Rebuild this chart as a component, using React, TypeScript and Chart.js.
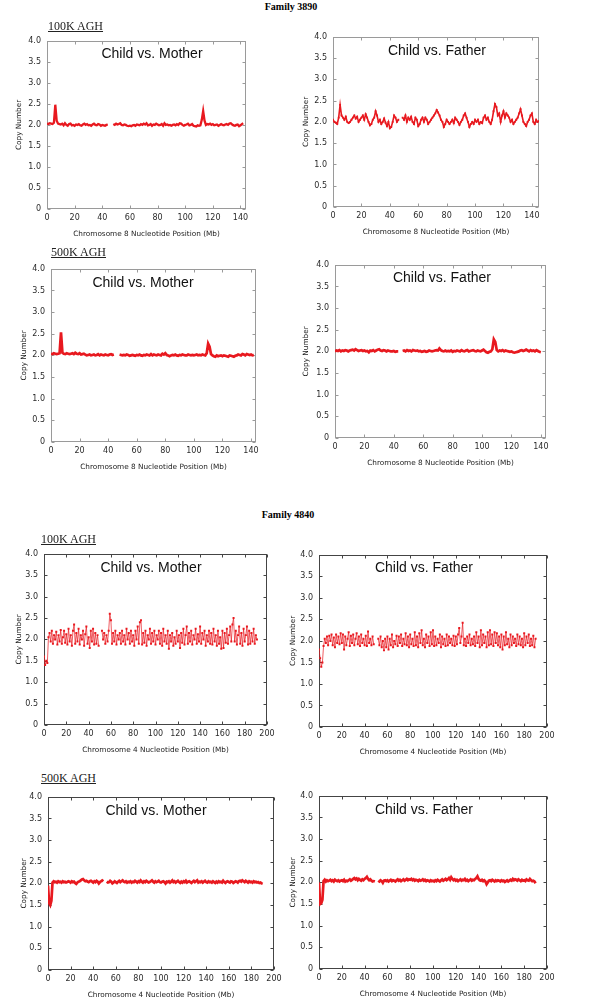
import React, { useEffect, useRef } from "react";
import { Chart, registerables } from "chart.js";

Chart.register(...registerables);

// ---------- DATA ----------
// Nucleotide positions (Mb)
const CHR8_MB = [
  0, 1, 2, 3, 4, 5, 6, 7, 8, 9, 10, 11, 12, 13, 14, 15, 16, 17, 18, 19,
  20, 21, 22, 23, 24, 25, 26, 27, 28, 29, 30, 31, 32, 33, 34, 35, 36, 37, 38, 39,
  40, 41, 42, 43, 44, 45, 46, 47, 48, 49, 50, 51, 52, 53, 54, 55, 56, 57, 58, 59,
  60, 61, 62, 63, 64, 65, 66, 67, 68, 69, 70, 71, 72, 73, 74, 75, 76, 77, 78, 79,
  80, 81, 82, 83, 84, 85, 86, 87, 88, 89, 90, 91, 92, 93, 94, 95, 96, 97, 98, 99,
  100, 101, 102, 103, 104, 105, 106, 107, 108, 109, 110, 111, 112, 113, 114, 115, 116, 117, 118, 119,
  120, 121, 122, 123, 124, 125, 126, 127, 128, 129, 130, 131, 132, 133, 134, 135, 136, 137, 138, 139,
  140, 141, 142, 143, 144, 145,
];
const CHR4_MB = [
  0, 1, 2, 3, 4, 5, 6, 7, 8, 9, 10, 11, 12, 13, 14, 15, 16, 17, 18, 19,
  20, 21, 22, 23, 24, 25, 26, 27, 28, 29, 30, 31, 32, 33, 34, 35, 36, 37, 38, 39,
  40, 41, 42, 43, 44, 45, 46, 47, 48, 49, 50, 51, 52, 53, 54, 55, 56, 57, 58, 59,
  60, 61, 62, 63, 64, 65, 66, 67, 68, 69, 70, 71, 72, 73, 74, 75, 76, 77, 78, 79,
  80, 81, 82, 83, 84, 85, 86, 87, 88, 89, 90, 91, 92, 93, 94, 95, 96, 97, 98, 99,
  100, 101, 102, 103, 104, 105, 106, 107, 108, 109, 110, 111, 112, 113, 114, 115, 116, 117, 118, 119,
  120, 121, 122, 123, 124, 125, 126, 127, 128, 129, 130, 131, 132, 133, 134, 135, 136, 137, 138, 139,
  140, 141, 142, 143, 144, 145, 146, 147, 148, 149, 150, 151, 152, 153, 154, 155, 156, 157, 158, 159,
  160, 161, 162, 163, 164, 165, 166, 167, 168, 169, 170, 171, 172, 173, 174, 175, 176, 177, 178, 179,
  180, 181, 182, 183, 184, 185, 186, 187, 188, 189, 190, 191,
];

// Family 3890, 100K AGH, Child vs. Mother (chr 8)
const F3890_100K_MOTHER = [
  2.03, 2.02, 2.04, 2.03, 2.02, 2.05, 2.48, 2.1, 2.03, 2.02,
  2.01, 2.03, 1.99, 2.04, 2.0, 1.98, 2.02, 2.03, 1.99, 2.0,
  1.98, 2.01, 2.0, 2.02, 1.99, 1.98, 2.01, 2.03, 2.0, 2.02,
  1.99, 2.0, 1.98, 2.01, 2.03, 2.0, 1.99, 2.02, 2.01, 1.98,
  2.0, 1.99, 1.98, 2.0, 2.01, null, null, null, 2.02, 2.0,
  2.03, 2.01, 2.02, 2.04, 2.0, 1.99, 2.01, 2.0, 1.98, 1.97,
  1.98, 1.97, 1.99, 2.0, 1.98, 2.01, 2.0, 1.99, 2.02, 2.0,
  2.03, 2.01, 2.04, 1.99, 2.0, 2.02, 1.98, 2.01, 2.0, 2.03,
  2.01, 1.99, 2.0, 2.02, 1.98, 2.04, 2.0, 2.01, 1.99, 2.0,
  1.98, 2.0, 2.01, 1.99, 2.02, 2.0, 2.04, 2.03, 2.0, 1.98,
  2.0, 2.01, 2.03, 1.99, 2.0, 2.02, 1.98, 1.97, 1.96, 1.99,
  1.98, 1.99, 2.12, 2.33, 2.1, 2.0, 2.02, 2.01, 2.03, 2.0,
  2.02, 1.99, 2.0, 2.01, 1.98, 2.0, 2.02, 2.0, 1.99, 2.01,
  2.02, 2.0, 2.03, 2.04, 2.01, 1.99, 1.98, 2.0, 2.01, 1.97,
  1.99, 2.02, 2.04,
];

// Family 3890, 100K AGH, Child vs. Father (chr 8)
const F3890_100K_FATHER = [
  2.05, 2.0, 1.98, 1.95, 2.1, 2.4, 2.15, 2.1, 2.05, 2.12,
  2.0, 1.97, 2.0, 2.05, 2.1, 2.15, 2.08, 2.12, 2.0, 2.05,
  2.1, 2.15, 2.05, 2.18, 2.1, 2.0, 1.92, 1.95, 2.05, 2.1,
  2.25, 2.15, 2.0, 2.05, 1.95, 2.0, 2.08, 1.98, 1.9, 2.0,
  1.85, 1.88, 2.0, 2.15, 2.1, 2.0, 2.05, null, null, 2.1,
  2.05, 2.15, 2.0, 2.1, 2.05, 2.12, 2.0, 1.95, 2.1, 2.05,
  1.9, 1.95, 2.05, 2.1, 2.0, 2.1, 2.05, 1.95, 2.0, 2.05,
  2.1, 2.15, 2.2, 2.28, 2.22, 2.15, 2.05, 2.0, 1.88, 1.95,
  2.05, 2.0, 1.95, 2.0, 2.05, 1.97, 2.1, 2.05, 2.0, 1.93,
  2.0, 2.05, 2.15, 2.2, 2.1, 2.0, 1.88, 1.95, 2.0, 1.95,
  2.05, 2.0, 2.05, 1.95, 2.0, 1.97, 2.1, 2.15, 2.05, 2.1,
  2.0, 1.95, 2.05, 2.25, 2.42, 2.35, 2.15, 2.2, 2.0, 2.15,
  2.25, 2.1, 2.2, 2.15, 2.1, 2.0, 2.05, 1.95, 2.0, 2.05,
  2.1, 2.2, 2.3, 2.15, 2.0, 1.95, 1.9, 2.0, 2.05, 2.15,
  2.2, 2.0, 1.95, 2.05, 2.0, 2.02,
];

// Family 3890, 500K AGH, Child vs. Mother (chr 8)
const F3890_500K_MOTHER = [
  2.04, 2.03, 2.05, 2.04, 2.03, 2.04, 2.05, 2.53, 2.06, 2.04,
  2.03, 2.05, 2.04, 2.03, 2.04, 2.05, 2.03, 2.06, 2.04, 2.03,
  2.05, 2.02, 2.03, 2.04, 2.02, 2.0, 2.01, 2.02, 2.0, 2.01,
  2.02, 2.0, 2.01, 2.03, 2.0, 2.02, 2.01, 2.0, 2.02, 2.01,
  2.0, 2.02, 2.03, 2.01, 2.02, null, null, null, 2.02, 2.01,
  2.0, 2.01, 2.0, 2.02, 2.01, 1.99, 2.0, 2.01, 2.0, 1.99,
  2.01, 2.0, 2.02, 2.0, 1.99, 2.01, 2.0, 2.02, 2.01, 2.0,
  2.03, 2.0, 2.02, 2.01, 2.0, 2.02, 2.01, 2.0, 2.04, 2.02,
  2.05, 2.01, 2.0, 1.98, 2.0, 2.01, 2.0, 2.02, 2.0, 1.99,
  2.01, 2.0, 2.02, 2.01, 2.0, 2.0, 2.02, 2.01, 2.0, 2.01,
  2.0, 2.01, 2.02, 2.0, 2.01, 2.0, 2.02, 2.01, 2.0, 2.05,
  2.27, 2.2, 2.03, 2.0, 1.98, 1.97, 2.0, 1.98, 1.99, 2.0,
  1.98, 2.0, 1.99, 1.98, 1.97, 2.0, 1.99, 1.98, 1.97, 1.99,
  2.0, 2.02, 2.01, 2.0, 2.03, 2.02, 2.0, 2.03, 2.02, 2.01,
  2.02, 2.0, 2.01,
];

// Family 3890, 500K AGH, Child vs. Father (chr 8)
const F3890_500K_FATHER = [
  2.0, 2.02, 2.01, 2.03, 2.0, 2.02, 2.01, 2.03, 2.02, 2.0,
  2.02, 2.03, 2.04, 2.02, 2.05, 2.03, 2.01, 2.02, 2.03, 2.01,
  2.02, 2.0, 2.01, 1.98, 2.02, 2.01, 2.03, 2.0, 2.02, 2.04,
  2.05, 2.02, 2.01, 2.03, 2.02, 2.0, 2.02, 2.01, 2.0, 2.0,
  2.01, 1.99, 2.0, 2.0, null, null, 2.01, 2.02, 2.0, 2.03,
  2.01, 2.02, 2.0, 2.03, 2.02, 2.01, 2.02, 2.0, 2.01, 1.99,
  2.0, 2.01, 1.99, 2.0, 2.02, 2.01, 2.0, 2.01, 2.02, 2.03,
  2.02, 2.07, 2.03, 2.01, 2.0, 2.02, 2.0, 2.01, 2.0, 2.02,
  1.99, 2.01, 2.0, 2.02, 2.01, 2.0, 2.03, 2.01, 2.0, 2.02,
  2.03, 2.0, 2.01, 2.02, 2.03, 2.01, 2.0, 2.02, 2.01, 2.0,
  2.02, 2.04, 2.01, 1.98, 1.97, 1.99, 2.0, 2.05, 2.28, 2.22,
  2.03, 2.0, 2.02, 2.01, 2.03, 2.0, 2.02, 2.01, 2.0, 1.99,
  2.0, 1.98, 1.97, 1.98, 1.99, 2.0, 2.02, 2.03, 2.01, 2.02,
  2.04, 2.02, 2.0, 2.03, 2.01, 2.02, 2.0, 2.03, 2.01, 1.99,
  1.98,
];

// Family 4840, 100K AGH, Child vs. Mother (chr 4)
const F4840_100K_MOTHER = [
  1.6, 1.4, 1.5, 1.45, 2.05, 2.15, 1.95, 2.2, 1.9, 2.1,
  2.0, 2.18, 1.88, 2.1, 1.95, 2.22, 1.9, 2.05, 2.2, 1.92,
  2.12, 1.88, 2.25, 1.95, 2.1, 1.85, 2.2, 2.35, 1.9, 2.15,
  1.95, 2.25, 1.88, 2.1, 2.0, 2.2, 1.85, 2.12, 2.3, 1.9,
  2.05, 1.8, 2.2, 1.95, 2.25, 1.88, 2.15, 1.9, 2.1, 1.85,
  null, null, 2.2, 2.0, 2.15, 1.9, 2.1, 1.95, 2.2, 2.6,
  2.45, 1.9, 2.15, 1.95, 2.2, 1.88, 2.1, 2.0, 2.15, 1.9,
  2.2, 1.95, 2.1, 1.88, 2.25, 2.0, 2.15, 1.9, 2.2, 1.95,
  2.1, 1.85, 2.2, 2.0, 2.3, 1.9, 2.4, 2.45, 1.88, 2.15,
  1.92, 2.2, 1.85, 2.1, 2.0, 2.25, 1.9, 2.15, 1.95, 2.2,
  1.88, 2.1, 2.0, 2.2, 1.9, 2.15, 1.85, 2.25, 1.95, 2.1,
  1.9, 2.2, 1.78, 2.1, 1.95, 2.15, 1.85, 2.05, 1.9, 2.2,
  1.95, 2.1, 1.8, 2.15, 1.92, 2.25, 1.88, 2.1, 2.3, 1.9,
  2.15, 1.95, 2.2, 1.88, 2.1, 2.0, 2.25, 1.9, 2.12, 1.95,
  2.3, 1.9, 2.15, 2.0, 2.2, 1.85, 2.1, 1.95, 2.2, 1.9,
  2.15, 1.88, 2.25, 1.95, 2.1, 1.85, 2.2, 1.9, 2.05, 1.78,
  2.2, 1.8, 2.15, 1.92, 2.25, 1.9, 2.1, 2.3, 1.95, 2.35,
  2.5, 1.95, 2.2, 1.88, 2.1, 2.3, 1.9, 2.15, 1.85, 2.25,
  1.95, 2.1, 2.3, 1.88, 2.2, 1.9, 2.15, 1.95, 2.25, 1.9,
  2.1, 2.0,
];

// Family 4840, 100K AGH, Child vs. Father (chr 4)
const F4840_100K_FATHER = [
  1.8, 1.6, 1.4, 1.5, 1.88, 2.05, 1.95, 2.1, 1.9, 2.12,
  2.0, 2.15, 1.9, 2.08, 1.85, 2.15, 1.95, 2.1, 1.92, 2.18,
  1.95, 2.15, 1.8, 2.1, 1.9, 2.05, 2.2, 1.88, 2.12, 1.95,
  2.15, 1.9, 2.05, 2.18, 1.92, 2.1, 1.88, 2.15, 1.95, 2.05,
  1.9, 2.12, 1.88, 2.22, 1.95, 2.05, 1.9, 2.1, 1.92, null,
  null, null, 2.05, 1.9, 2.1, 1.85, 2.0, 1.78, 2.05, 1.85,
  2.1, 1.8, 2.05, 1.9, 2.15, 1.85, 2.0, 1.92, 2.12, 1.88,
  2.1, 1.95, 2.15, 1.88, 2.05, 1.92, 2.18, 1.9, 2.1, 1.85,
  2.15, 1.92, 2.05, 1.88, 2.2, 1.9, 2.1, 1.85, 2.18, 1.95,
  2.25, 1.9, 2.05, 1.85, 2.15, 1.95, 2.1, 1.88, 2.2, 1.92,
  2.25, 1.88, 2.1, 1.9, 2.05, 1.95, 2.15, 1.85, 2.1, 1.92,
  2.05, 1.88, 2.15, 1.9, 2.1, 1.95, 2.05, 1.9, 2.12, 1.88,
  2.1, 1.92, 2.15, 2.3, 1.95, 2.1, 2.42, 1.9, 2.05, 1.88,
  2.1, 1.95, 2.15, 1.9, 2.05, 1.92, 2.1, 1.88, 2.2, 1.95,
  2.1, 1.85, 2.25, 1.9, 2.15, 1.95, 2.1, 1.85, 2.2, 1.9,
  2.25, 1.92, 2.15, 1.88, 2.2, 1.95, 2.18, 1.9, 2.1, 1.85,
  2.15, 1.8, 2.1, 1.9, 2.2, 1.92, 2.05, 1.85, 2.15, 1.9,
  2.1, 1.95, 2.05, 1.88, 2.15, 1.92, 2.1, 1.9, 2.05, 1.85,
  2.18, 1.9, 2.1, 1.95, 2.15, 1.88, 2.05, 1.9, 2.12, 1.85,
  2.05,
];

// Family 4840, 500K AGH, Child vs. Mother (chr 4)
const F4840_500K_MOTHER = [
  1.95, 1.55, 1.5, 1.6, 2.02, 2.05, 2.03, 2.04, 2.02, 2.05,
  2.03, 2.04, 2.02, 2.05, 2.03, 2.04, 2.02, 2.03, 2.05, 2.04,
  2.02, 2.05, 2.03, 2.04, 2.01, 1.99, 2.02, 2.04, 2.05, 2.07,
  2.09, 2.1, 2.07, 2.05, 2.06, 2.04, 2.03, 2.05, 2.06, 2.04,
  2.02, 2.05, 2.03, 2.06, 2.04, 2.0, 2.03, 2.05, 2.07, 2.05,
  null, null, 2.04, 2.02, 2.03, 2.06, 2.04, 2.0, 2.02, 2.05,
  2.03, 2.01, 2.04, 2.06, 2.03, 2.05, 2.07, 2.04, 2.03, 2.05,
  2.02, 2.04, 2.03, 2.05, 2.02, 2.04, 2.03, 2.06, 2.04, 2.02,
  2.05, 2.03, 2.07, 2.04, 2.02, 2.05, 2.03, 2.06, 2.04, 2.02,
  2.03, 2.05, 2.07, 2.04, 2.02, 2.05, 2.03, 2.04, 2.06, 2.03,
  2.02, 2.04, 2.05, 2.03, 2.0, 2.04, 2.03, 2.05, 2.02, 2.04,
  2.07, 2.03, 2.05, 2.02, 2.04, 2.06, 2.03, 2.01, 2.04, 2.02,
  2.05, 2.03, 2.06, 2.02, 2.04, 2.05, 2.03, 2.01, 2.04, 2.06,
  2.03, 2.05, 2.07, 2.02, 2.04, 2.03, 2.05, 2.02, 2.04, 2.06,
  2.03, 2.02, 2.05, 2.03, 2.04, 2.02, 2.05, 2.03, 2.01, 2.04,
  2.02, 2.05, 2.03, 2.04, 2.02, 2.06, 2.03, 2.01, 2.04, 2.05,
  2.03, 2.02, 2.05, 2.04, 2.01, 2.03, 2.05, 2.04, 2.02, 2.05,
  2.06, 2.04, 2.07, 2.05, 2.03, 2.06, 2.04, 2.02, 2.05, 2.03,
  2.04, 2.02, 2.05, 2.03, 2.04, 2.02, 2.03, 2.01, 2.02, 2.0,
  1.99,
];

// Family 4840, 500K AGH, Child vs. Father (chr 4)
const F4840_500K_FATHER = [
  2.0, 1.5, 1.52, 1.6, 2.03, 2.06, 2.02, 2.05, 2.03, 2.04,
  2.06, 2.03, 2.05, 2.02, 2.06, 2.04, 2.03, 2.05, 2.02, 2.04,
  2.05, 2.03, 2.06, 2.02, 2.04, 2.03, 2.05, 2.07, 2.04, 2.06,
  2.08, 2.1, 2.07, 2.09, 2.05, 2.08, 2.06, 2.04, 2.07, 2.05,
  2.08, 2.1, 2.13, 2.08, 2.05, 2.07, 2.04, 2.02, 2.03, 2.02,
  null, null, 2.04, 2.02, 2.05, 2.03, 1.99, 2.04, 2.05, 2.03,
  2.05, 2.02, 2.04, 2.06, 2.03, 2.05, 2.04, 2.02, 2.05, 2.07,
  2.04, 2.06, 2.03, 2.05, 2.07, 2.04, 2.06, 2.08, 2.05, 2.07,
  2.06, 2.08, 2.05, 2.07, 2.04, 2.06, 2.05, 2.03, 2.06, 2.04,
  2.05, 2.07, 2.04, 2.06, 2.03, 2.05, 2.04, 2.02, 2.05, 2.03,
  2.04, 2.02, 2.05, 2.03, 2.06, 2.04, 2.02, 2.05, 2.07, 2.04,
  2.06, 2.08, 2.05, 2.07, 2.1, 2.06, 2.12, 2.08, 2.05, 2.07,
  2.04, 2.06, 2.03, 2.05, 2.07, 2.04, 2.06, 2.05, 2.08, 2.04,
  2.06, 2.03, 2.05, 2.07, 2.04, 2.06, 2.05, 2.08, 2.1, 2.14,
  2.08, 2.05, 2.04, 2.06, 2.03, 2.05, 2.02, 1.96, 2.0, 2.04,
  2.05, 2.03, 2.06, 2.04, 2.02, 2.05, 2.03, 2.05, 2.04, 2.02,
  2.05, 2.03, 2.04, 2.01, 2.03, 2.05, 2.02, 2.04, 2.06, 2.04,
  2.08, 2.05, 2.07, 2.06, 2.04, 2.07, 2.05, 2.03, 2.06, 2.04,
  2.05, 2.03, 2.07, 2.05, 2.04, 2.08, 2.05, 2.03, 2.04, 2.02,
  1.98,
];

// Texts
const FAMILY_TITLES = ["Family 3890", "Family 4840"];
const PLATFORM_LABELS = ["100K AGH", "500K AGH"];
const COMPARISONS = ["Child vs. Mother", "Child vs. Father"];
const X_TITLE_CHR8 = "Chromosome 8 Nucleotide Position (Mb)";
const X_TITLE_CHR4 = "Chromosome 4 Nucleotide Position (Mb)";
const Y_TITLE = "Copy Number";
const Y_MIN = 0;
const Y_MAX = 4;
const Y_STEP = 0.5;
const X_STEP = 20;

// ---------- LAYOUT / STYLE ----------
const RED = "#e8191f";
const PAD_TOP = 8;
const PAD_RIGHT = 12;
const X_AXIS_H = 29;
const TICK_FONT = { family: "'DejaVu Sans', Verdana, sans-serif", size: 8 };
const AXIS_TITLE_FONT = { family: "'DejaVu Sans', Verdana, sans-serif", size: 7.3 };

type Panel = {
  id: string;
  positions: number[];
  values: (number | null)[];
  xMax: number;
  xTitle: string;
  title: string;
  left: number;
  top: number;
  right: number;
  bottom: number;
  yW: number;
  mode: "line" | "thick" | "dots" | "scatter";
  frame: string;
  titleX: number;
  titleY: number;
};

const PANELS: Panel[] = [
  { id: "a", positions: CHR8_MB, values: F3890_100K_MOTHER, xMax: 144, xTitle: X_TITLE_CHR8, title: COMPARISONS[0],
    left: 47, top: 38, right: 246, bottom: 209, yW: 32, mode: "line", frame: "#9a9a9a", titleX: 152, titleY: 53 },
  { id: "b", positions: CHR8_MB, values: F3890_100K_FATHER, xMax: 145, xTitle: X_TITLE_CHR8, title: COMPARISONS[1],
    left: 333, top: 34, right: 539, bottom: 207, yW: 31, mode: "dots", frame: "#9a9a9a", titleX: 437, titleY: 50 },
  { id: "c", positions: CHR8_MB, values: F3890_500K_MOTHER, xMax: 143.5, xTitle: X_TITLE_CHR8, title: COMPARISONS[0],
    left: 51, top: 266, right: 256, bottom: 442, yW: 31, mode: "thick", frame: "#9a9a9a", titleX: 143, titleY: 282 },
  { id: "d", positions: CHR8_MB, values: F3890_500K_FATHER, xMax: 143.5, xTitle: X_TITLE_CHR8, title: COMPARISONS[1],
    left: 335, top: 262, right: 546, bottom: 438, yW: 33, mode: "thick", frame: "#9a9a9a", titleX: 442, titleY: 277 },
  { id: "e", positions: CHR4_MB, values: F4840_100K_MOTHER, xMax: 200, xTitle: X_TITLE_CHR4, title: COMPARISONS[0],
    left: 44, top: 551, right: 267, bottom: 725, yW: 29, mode: "scatter", frame: "#444", titleX: 151, titleY: 567 },
  { id: "f", positions: CHR4_MB, values: F4840_100K_FATHER, xMax: 200, xTitle: X_TITLE_CHR4, title: COMPARISONS[1],
    left: 319, top: 552, right: 547, bottom: 727, yW: 30, mode: "scatter", frame: "#444", titleX: 424, titleY: 567 },
  { id: "g", positions: CHR4_MB, values: F4840_500K_MOTHER, xMax: 200, xTitle: X_TITLE_CHR4, title: COMPARISONS[0],
    left: 48, top: 794, right: 274, bottom: 970, yW: 28, mode: "thick", frame: "#444", titleX: 156, titleY: 810 },
  { id: "h", positions: CHR4_MB, values: F4840_500K_FATHER, xMax: 200, xTitle: X_TITLE_CHR4, title: COMPARISONS[1],
    left: 319, top: 793, right: 547, bottom: 969, yW: 30, mode: "thick", frame: "#444", titleX: 424, titleY: 809 },
];

const boxPlugin = {
  id: "gnuBox",
  beforeDatasetsDraw(chart: any, _args: any, opts: any) {
    const { ctx, chartArea: a, scales } = chart;
    ctx.save();
    ctx.strokeStyle = opts.color || "#999";
    ctx.lineWidth = 1;
    const l = Math.round(a.left) + 0.5;
    const t = Math.round(a.top) + 0.5;
    const r = Math.round(a.right) - 0.5;
    const b = Math.round(a.bottom) - 0.5;
    ctx.strokeRect(l, t, r - l, b - t);
    const len = 3;
    ctx.beginPath();
    scales.x.ticks.forEach((tk: any) => {
      const px = Math.round(scales.x.getPixelForValue(tk.value)) + 0.5;
      ctx.moveTo(px, b);
      ctx.lineTo(px, b - len);
      ctx.moveTo(px, t);
      ctx.lineTo(px, t + len);
    });
    scales.y.ticks.forEach((tk: any) => {
      const py = Math.round(scales.y.getPixelForValue(tk.value)) + 0.5;
      ctx.moveTo(l, py);
      ctx.lineTo(l + len, py);
      ctx.moveTo(r, py);
      ctx.lineTo(r - len, py);
    });
    ctx.stroke();
    ctx.restore();
  },
};

function PanelChart({ p }: { p: Panel }) {
  const ref = useRef<HTMLCanvasElement | null>(null);
  const w = p.yW + (p.right - p.left) + PAD_RIGHT;
  const h = PAD_TOP + (p.bottom - p.top) + X_AXIS_H;

  useEffect(() => {
    if (!ref.current) return;
    const data = p.values.map((v, i) => ({ x: p.positions[i], y: v }));
    const ds: any = {
      data,
      borderColor: RED,
      backgroundColor: RED,
      spanGaps: false,
      tension: 0,
      showLine: true,
    };
    if (p.mode === "line") {
      Object.assign(ds, { borderWidth: 2.3, pointRadius: 0 });
    } else if (p.mode === "thick") {
      Object.assign(ds, { borderWidth: 2.7, pointRadius: 0 });
    } else if (p.mode === "dots") {
      Object.assign(ds, { borderWidth: 1.6, pointRadius: 1.3, pointStyle: "rect", pointBorderWidth: 0 });
    } else {
      Object.assign(ds, { borderWidth: 0.7, pointRadius: 1.4, pointStyle: "rect", pointBorderWidth: 0 });
    }
    const chart = new Chart(ref.current, {
      type: "line",
      data: { datasets: [ds] },
      options: {
        animation: false,
        responsive: false,
        maintainAspectRatio: false,
        devicePixelRatio: 1,
        layout: { padding: { top: PAD_TOP, right: PAD_RIGHT, left: 0, bottom: 0 } },
        plugins: {
          legend: { display: false },
          tooltip: { enabled: false },
          title: { display: false },
          gnuBox: { color: p.frame },
        } as any,
        scales: {
          x: {
            type: "linear",
            min: 0,
            max: p.xMax,
            border: { display: false },
            grid: { display: false, drawTicks: false },
            ticks: {
              stepSize: X_STEP,
              includeBounds: false,
              autoSkip: false,
              maxRotation: 0,
              padding: 4,
              color: "#2a2a2a",
              font: TICK_FONT,
            },
            title: { display: true, text: p.xTitle, color: "#1a1a1a", font: AXIS_TITLE_FONT, padding: 0 },
            afterFit: (s: any) => {
              s.height = X_AXIS_H;
            },
          },
          y: {
            type: "linear",
            min: Y_MIN,
            max: Y_MAX,
            border: { display: false },
            grid: { display: false, drawTicks: false },
            ticks: {
              stepSize: Y_STEP,
              padding: 6,
              color: "#2a2a2a",
              font: TICK_FONT,
              callback: (v: any) => (Number(v) === 0 ? "0" : Number(v).toFixed(1)),
            },
            title: { display: true, text: Y_TITLE, color: "#1a1a1a", font: AXIS_TITLE_FONT, padding: 0 },
            afterFit: (s: any) => {
              s.width = p.yW;
            },
          },
        },
      } as any,
      plugins: [boxPlugin as any],
    });
    return () => chart.destroy();
  }, [p]);

  return (
    <canvas
      ref={ref}
      width={w}
      height={h}
      style={{ position: "absolute", left: p.left - p.yW, top: p.top - PAD_TOP, width: w, height: h }}
    />
  );
}

const serif = "'Liberation Serif', 'Times New Roman', serif";
const sans = "'Liberation Sans', Arial, Helvetica, sans-serif";

function Label({ x, y, text, style, anchor = "center" }: any) {
  return (
    <div
      style={{
        position: "absolute",
        left: x,
        top: y,
        transform: anchor === "center" ? "translate(-50%, -50%)" : "translate(0, -50%)",
        whiteSpace: "nowrap",
        lineHeight: 1,
        ...style,
      }}
    >
      {text}
    </div>
  );
}

export default function App() {
  const famStyle = { fontFamily: serif, fontWeight: "bold", fontSize: 10, color: "#000" };
  const aghStyle = { fontFamily: serif, fontSize: 12, color: "#222", textDecoration: "underline" };
  const cmpStyle = { fontFamily: sans, fontSize: 14, color: "#111" };
  return (
    <div style={{ position: "absolute", left: 0, top: 0, width: 600, height: 1002, background: "#fff", overflow: "hidden" }}>
      {PANELS.map((p) => (
        <PanelChart key={p.id} p={p} />
      ))}
      <Label x={291} y={7} text={FAMILY_TITLES[0]} style={famStyle} />
      <Label x={288} y={515} text={FAMILY_TITLES[1]} style={famStyle} />
      <Label x={48} y={26} text={PLATFORM_LABELS[0]} style={aghStyle} anchor="left" />
      <Label x={51} y={252} text={PLATFORM_LABELS[1]} style={aghStyle} anchor="left" />
      <Label x={41} y={539} text={PLATFORM_LABELS[0]} style={aghStyle} anchor="left" />
      <Label x={41} y={778} text={PLATFORM_LABELS[1]} style={aghStyle} anchor="left" />
      {PANELS.map((p) => (
        <Label key={"t" + p.id} x={p.titleX} y={p.titleY} text={p.title} style={cmpStyle} />
      ))}
    </div>
  );
}
